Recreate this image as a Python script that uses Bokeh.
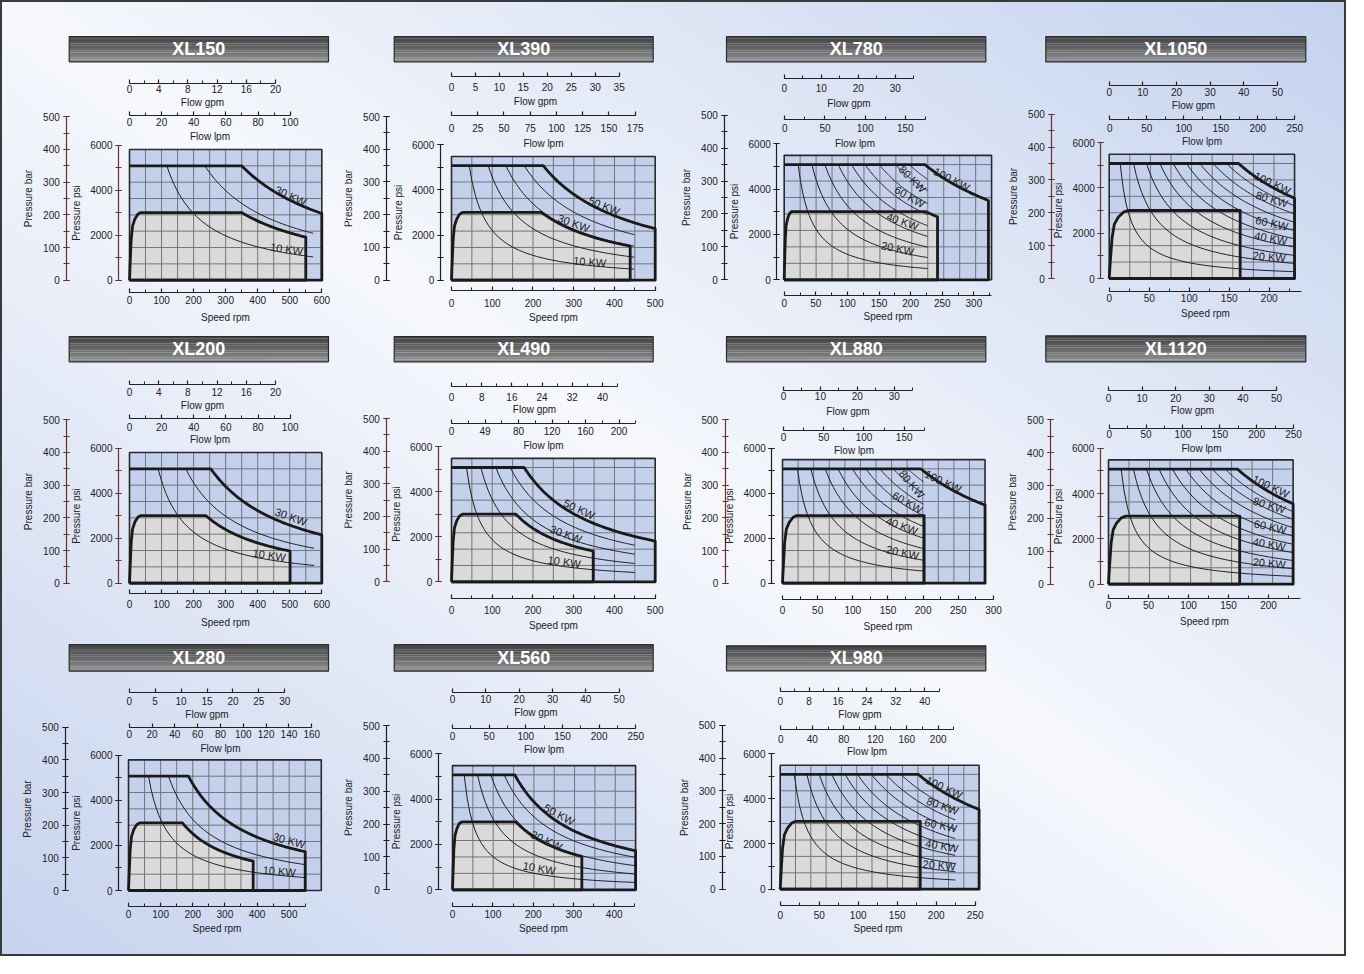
import numpy as np
from bokeh.plotting import figure
from bokeh.models import Range1d, LinearAxis, FixedTicker, Label, ColumnDataSource, Spacer
from bokeh.layouts import row, column
from bokeh.core.properties import value
from bokeh.embed import file_html
from bokeh.resources import INLINE

# ------------------------------------------------------------------ data
MODELS = ["XL150", "XL390", "XL780", "XL1050",
          "XL200", "XL490", "XL880", "XL1120",
          "XL280", "XL560", "XL980"]

# speed axis (rpm)
SPEED_STEP = [100, 100, 50, 50, 100, 100, 50, 50, 100, 100, 50]
SPEED_MINOR = [50, 50, 25, 25, 50, 50, 25, 25, 50, 50, 25]
SPEED_LAST = [600, 500, 300, 200, 600, 500, 300, 200, 500, 400, 250]
SPEED_END = [600, 500, 328, 240, 600, 500, 300, 240, 550, 450, 250]

# flow axes
GPM_STEP = [4, 5, 10, 10, 4, 8, 10, 10, 5, 10, 8]
GPM_MINOR = [2, 5, 5, 10, 2, 4, 5, 10, 5, 10, 4]
GPM_LAST = [20, 35, 30, 50, 20, 40, 30, 50, 30, 50, 40]
GPM_END = [20, 35, 35, 50, 20, 44, 35, 50, 30, 50, 44]
LPM_STEP = [20, 25, 50, 50, 20, 40, 50, 50, 20, 50, 40]
LPM_MINOR = [10, 25, 25, 25, 10, 20, 25, 25, 20, 25, 20]
LPM_LAST = [100, 175, 150, 250, 100, 200, 150, 250, 160, 250, 200]
LPM_END = [100, 175, 175, 250, 100, 220, 175, 250, 160, 250, 220]
LPM_LABEL_OVERRIDES = {5: {40: "49"}}

# pressure axes
BAR_TICKS = [0, 100, 200, 300, 400, 500]
BAR_MINOR = [0, 50, 100, 150, 200, 250, 300, 350, 400, 450, 500]
PSI_TICKS = [0, 2000, 4000, 6000]
PSI_MINOR = [0, 1000, 2000, 3000, 4000, 5000, 6000]
PSI_PER_BAR = 14.5038

# operating box
BOX_RPM = [600, 500, 328, 231.7, 600, 500, 288, 230.8, 600, 453, 255]
BOX_BAR = [400, 378, 378, 378, 400, 378, 378, 378, 400, 378, 378]
GRID_COLS = [12, 10, 13, 9, 12, 10, 13, 9, 12, 9, 13]
GRID_BAR_STEP = 50

# intermittent envelope (bar, rpm)
INT_BAR = 350
INT_CORNER_RPM = [350, 225, 222.5, 161.7, 253.7, 178.4, 196.7, 161.2, 186.7, 154, 177]
INT_END_RPM = [600, 500, 323, 231.7, 600, 500, 288, 230.8, 550, 453, 255]

# continuous envelope (bar, rpm)
CONT_BAR = 207
CONT_RAMP_RPM = [35, 27, 11.6, 24, 35, 27, 20.4, 21.7, 35, 23, 20]
CONT_CORNER_RPM = [350, 221, 224, 163.7, 238, 158, 201.4, 164, 168, 156.7, 179.5]
CONT_END_RPM = [550, 438.6, 242.5, 163.7, 501, 347.8, 201.4, 164, 388, 320, 179.5]
RAMP_N = [0.0, 0.06, 0.15, 0.27, 0.47, 0.74, 1.0]
RAMP_P = [0.0, 0.26, 0.60, 0.80, 0.90, 0.975, 1.0]

# constant-power curves: rpm where each meets the 350 bar line, and end rpm
CURVE_START_RPM = [
    [116.5, 235],
    [43.4, 90, 133.4, 178.4],
    [22.1, 43.8, 64.3, 85.4, 106.5, 128, 150.2, 175.5, 197.7],
    [13.7, 30.4, 46.6, 63.4, 80, 96.6, 113.3, 130, 146.6],
    [89.4, 175.7],
    [36.8, 72, 108.8, 144],
    [21.3, 40.3, 60.7, 79, 99.5, 118.5, 138.4, 157.3, 177.7],
    [15.8, 31.2, 47.5, 63.3, 80, 96.7, 113.3, 130, 145.8],
    [62.2, 124.5],
    [28.9, 61.9, 94.8, 127.8],
    [18, 34.2, 50, 66.2, 83.3, 99.1, 117, 135.5, 154.7],
]
CURVE_END_RPM = [573, 448.5, 226.7, 231.7, 576, 450, 200.5, 230.8, 550, 452, 224.4]

# power labels: (text, rpm, bar, angle deg)
KW_LABELS = [
    [("30 KW", 503, 258, -25), ("10 KW", 490, 95, -8)],
    [("50 KW", 374.8, 227.2, -22), ("30 KW", 299.5, 174.1, -20), ("10 KW", 339.5, 56.2, -5)],
    [("100 KW", 265, 305.6, -27), ("80 KW", 202.9, 305.6, -45), ("60 KW", 198.6, 252.1, -30),
     ("40 KW", 187.1, 177.1, -20), ("20 KW", 179.2, 95.1, -12)],
    [("100 KW", 204, 290, -25), ("80 KW", 203.3, 241.3, -17), ("60 KW", 203.3, 168.3, -12),
     ("40 KW", 202, 122.6, -10), ("20 KW", 200, 66, -5)],
    [("30 KW", 503.3, 203.2, -20), ("10 KW", 435.9, 85.7, -8)],
    [("50 KW", 313.4, 222.3, -25), ("30 KW", 280.6, 145.7, -20), ("10 KW", 276.6, 61.2, -8)],
    [("100 KW", 228.5, 311.2, -25), ("80 KW", 183.9, 303, -50), ("60 KW", 177.7, 246.9, -30),
     ("40 KW", 169.6, 175.6, -20), ("20 KW", 170.6, 93.9, -12)],
    [("100 KW", 202.9, 297.1, -25), ("80 KW", 200.9, 240.3, -17), ("60 KW", 202.1, 174.6, -12),
     ("40 KW", 200.9, 121.7, -10), ("20 KW", 200.9, 63.9, -5)],
    [("30 KW", 500, 153, -15), ("10 KW", 469, 59, -5)],
    [("50 KW", 264, 229, -28), ("30 KW", 232.6, 150, -25), ("10 KW", 214.5, 65.7, -10)],
    [("100 KW", 210.3, 310, -25), ("80 KW", 208.1, 254.3, -20), ("60 KW", 205.9, 195.1, -12),
     ("40 KW", 207.2, 132.3, -10), ("20 KW", 203.8, 73.2, -5)],
]

# ------------------------------------------------------------------ layout / style
BROWN = "#6b2f2f"
BLACK = "#1e1e1e"
BAR_AXIS_COLOR = [BROWN, BLACK, BLACK, BROWN, BROWN, BROWN, BROWN, BROWN, BLACK, BLACK, BLACK]
PSI_AXIS_COLOR = [BROWN, BLACK, BLACK, BROWN, BROWN, BROWN, BLACK, BROWN, BLACK, BLACK, BLACK]
FONT = "Liberation Sans"
BOX_BLUE = "#c4d1ec"
CONT_GREY = "#dadada"
GRID_COLOR = "#757575"
TITLE_SHADES = ["#454545", "#4b4b4b", "#525252", "#595959", "#606060", "#686868",
                "#707070", "#777777", "#7f7f7f", "#868686", "#8c8c8c"]

COL_X = [8, 352, 686, 1016]
COL_W = [344, 334, 330, 338]
ROW_Y = [8, 338, 646]
ROW_H = [330, 308, 318]

# pixel geometry of each panel on the page (axis anchors)
GEOM = [
    dict(L=137.0, sx=0.3205, y0=287.7, sy=0.3268, Lg=137.0, sg=7.30, Ll=137.0, sl=1.607,
         bar_x=74.3, psi_x=126.0, gpm=(90.7, 98.3, 110.7), lpm=(123.3, 131.7, 146.0),
         spd=(300.0, 309.3, 326.7), tb=(76.7, 336.0, 44.0, 69.3)),
    dict(L=459.0, sx=0.4074, y0=287.7, sy=0.3274, Lg=459.0, sg=4.791, Ll=459.0, sl=1.0497,
         bar_x=394.3, psi_x=447.7, gpm=(84.3, 96.7, 111.0), lpm=(123.3, 137.3, 152.3),
         spd=(297.7, 312.7, 326.0), tb=(401.7, 660.7, 44.0, 69.3)),
    dict(L=791.7, sx=0.6323, y0=287.3, sy=0.3292, Lg=791.7, sg=3.70, Ll=792.3, sl=0.8033,
         bar_x=732.3, psi_x=784.3, gpm=(85.7, 97.3, 111.0), lpm=(127.3, 137.7, 152.3),
         spd=(303.3, 312.7, 326.0), tb=(734.0, 993.3, 44.0, 69.3)),
    dict(L=1116.7, sx=0.80, y0=286.0, sy=0.3286, Lg=1116.7, sg=3.366, Ll=1117.3, sl=0.74,
         bar_x=1059.3, psi_x=1108.3, gpm=(92.7, 101.7, 112.7), lpm=(127.3, 137.3, 150.0),
         spd=(299.3, 307.7, 322.7), tb=(1053.3, 1313.3, 44.0, 69.3)),
    dict(L=137.0, sx=0.3205, y0=590.7, sy=0.3268, Lg=137.0, sg=7.30, Ll=137.0, sl=1.607,
         bar_x=74.3, psi_x=126.0, gpm=(391.7, 401.7, 412.3), lpm=(426.0, 435.7, 447.3),
         spd=(600.7, 614.0, 631.0), tb=(76.7, 336.0, 344.0, 369.3)),
    dict(L=459.0, sx=0.4074, y0=589.3, sy=0.3266, Lg=459.0, sg=3.775, Ll=459.0, sl=0.8375,
         bar_x=394.3, psi_x=445.7, gpm=(394.3, 406.7, 416.7), lpm=(430.7, 440.7, 453.3),
         spd=(606.0, 619.3, 634.3), tb=(401.7, 660.7, 344.0, 369.3)),
    dict(L=790.0, sx=0.7033, y0=590.7, sy=0.3268, Lg=791.0, sg=3.69, Ll=791.0, sl=0.8047,
         bar_x=732.7, psi_x=779.3, gpm=(397.7, 406.0, 420.0), lpm=(438.3, 446.0, 459.0),
         spd=(606.7, 619.3, 634.3), tb=(734.0, 993.3, 344.0, 369.3)),
    dict(L=1116.0, sx=0.80, y0=591.7, sy=0.3288, Lg=1116.0, sg=3.36, Ll=1116.7, sl=0.7373,
         bar_x=1058.3, psi_x=1107.7, gpm=(398.3, 407.7, 420.0), lpm=(435.7, 443.3, 456.0),
         spd=(606.0, 614.3, 630.0), tb=(1053.3, 1313.3, 343.3, 369.3)),
    dict(L=136.0, sx=0.3213, y0=898.0, sy=0.3266, Lg=136.7, sg=5.187, Ll=136.7, sl=1.141,
         bar_x=73.3, psi_x=126.0, gpm=(699.7, 710.3, 721.3), lpm=(734.7, 743.7, 756.3),
         spd=(913.7, 924.0, 937.3), tb=(76.7, 336.0, 652.0, 678.7)),
    dict(L=460.0, sx=0.4042, y0=897.3, sy=0.3286, Lg=460.0, sg=3.333, Ll=460.0, sl=0.7333,
         bar_x=394.3, psi_x=445.7, gpm=(699.7, 708.7, 719.7), lpm=(736.3, 745.3, 758.0),
         spd=(913.7, 924.0, 937.3), tb=(401.7, 660.7, 652.0, 678.7)),
    dict(L=787.7, sx=0.78, y0=896.7, sy=0.328, Lg=787.7, sg=3.615, Ll=788.3, sl=0.787,
         bar_x=730.0, psi_x=779.0, gpm=(699.3, 710.0, 722.7), lpm=(737.3, 748.3, 760.0),
         spd=(913.3, 924.0, 937.3), tb=(734.0, 993.3, 653.3, 678.3)),
]


def style_axis(ax, color):
    ax.axis_line_color = color
    ax.major_tick_line_color = color
    ax.minor_tick_line_color = color
    ax.axis_line_width = 1.2
    ax.major_tick_line_width = 1.2
    ax.minor_tick_line_width = 1.0
    ax.major_label_text_font = FONT
    ax.major_label_text_font_size = "10px"
    ax.major_label_text_color = "#222222"
    ax.axis_label_text_font = FONT
    ax.axis_label_text_font_size = "10px"
    ax.axis_label_text_font_style = "normal"
    ax.axis_label_text_color = "#222222"


def hyper(p_top, n0, n1, k=60):
    n = np.linspace(n0, n1, k)
    return n, p_top * n0 / n


def make_panel(i):
    g = GEOM[i]
    r, c = divmod(i, 4)
    fx, fy, fw, fh = COL_X[c], ROW_Y[r], COL_W[c], ROW_H[r]
    X = lambda ax: (ax - g["L"]) / g["sx"]
    Y = lambda ay: (g["y0"] - ay) / g["sy"]

    p = figure(width=fw, height=fh,
               x_range=Range1d(X(fx), X(fx + fw)), y_range=Range1d(Y(fy + fh), Y(fy)),
               x_axis_type=None, y_axis_type=None, toolbar_location=None,
               title_location=None, output_backend="svg", min_border=0)
    p.outline_line_color = None
    p.background_fill_alpha = 0
    p.border_fill_alpha = 0
    p.extra_y_ranges = {"psi": Range1d(Y(fy + fh) * PSI_PER_BAR, Y(fy) * PSI_PER_BAR)}
    p.extra_x_ranges = {
        "gpm": Range1d((fx - g["Lg"]) / g["sg"], (fx + fw - g["Lg"]) / g["sg"]),
        "lpm": Range1d((fx - g["Ll"]) / g["sl"], (fx + fw - g["Ll"]) / g["sl"]),
    }

    # ---- title bar
    x1, x2, y1, y2 = g["tb"]
    n = len(TITLE_SHADES)
    edges = np.linspace(y1, y2, n + 1)
    p.quad(left=X(x1), right=X(x2), top=[Y(e) for e in edges[:-1]],
           bottom=[Y(e) for e in edges[1:]], fill_color=TITLE_SHADES, line_color=None)
    p.quad(left=X(x1), right=X(x2), top=Y(y1), bottom=Y(y2), fill_color=None,
           line_color="#2b2b2b", line_width=1.2)
    p.add_layout(Label(x=X((x1 + x2) / 2), y=Y((y1 + y2) / 2), text=MODELS[i],
                       text_align="center", text_baseline="middle", text_color="white",
                       text_font=FONT, text_font_style="bold", text_font_size="18px"))

    # ---- chart box
    box_r, box_t = BOX_RPM[i], BOX_BAR[i]
    p.quad(left=0, right=box_r, bottom=0, top=box_t, fill_color=BOX_BLUE, line_color=None)

    # continuous envelope region
    rn = np.array(RAMP_N) * CONT_RAMP_RPM[i]
    rp = np.array(RAMP_P) * CONT_BAR
    if CONT_END_RPM[i] > CONT_CORNER_RPM[i]:
        hn, hp = hyper(CONT_BAR, CONT_CORNER_RPM[i], CONT_END_RPM[i])
    else:
        hn, hp = np.array([CONT_CORNER_RPM[i]]), np.array([CONT_BAR])
    cx = list(rn) + list(hn) + [CONT_END_RPM[i], 0]
    cy = list(rp) + list(hp) + [0, 0]
    p.patch(cx, cy, fill_color=CONT_GREY, line_color=None)

    # grid
    step = box_r / GRID_COLS[i]
    vx = [step * k for k in range(1, GRID_COLS[i])]
    hy = list(range(GRID_BAR_STEP, int(box_t - 1) + 1, GRID_BAR_STEP))
    hy = [h for h in hy if h < box_t - 2]
    p.segment(x0=vx, y0=[0] * len(vx), x1=vx, y1=[box_t] * len(vx),
              line_color=GRID_COLOR, line_width=1.0)
    p.segment(x0=[0] * len(hy), y0=hy, x1=[box_r] * len(hy), y1=hy,
              line_color=GRID_COLOR, line_width=1.0)

    # constant power curves
    xs, ys = [], []
    for s in CURVE_START_RPM[i]:
        a, b = hyper(INT_BAR, s, CURVE_END_RPM[i])
        xs.append(list(a))
        ys.append(list(b))
    p.multi_line(xs, ys, line_color="#1e1e1e", line_width=1.0)

    # box outline
    p.quad(left=0, right=box_r, bottom=0, top=box_t, fill_color=None,
           line_color="#2a2a2a", line_width=1.6)

    # envelopes
    p.line(cx, cy, line_color="#1a1a1a", line_width=2.8, line_join="round")
    hn2, hp2 = hyper(INT_BAR, INT_CORNER_RPM[i], INT_END_RPM[i])
    ix = [0] + list(hn2) + [INT_END_RPM[i], 0]
    iy = [INT_BAR] + list(hp2) + [0, 0]
    p.line(ix, iy, line_color="#1a1a1a", line_width=2.8, line_join="round")

    # power labels
    lab = KW_LABELS[i]
    src = ColumnDataSource(dict(x=[t[1] for t in lab], y=[t[2] for t in lab],
                                text=[t[0] for t in lab], angle=[t[3] for t in lab]))
    p.text(x="x", y="y", text="text", angle="angle", angle_units="deg", source=src,
           text_font=value(FONT), text_font_size="11px", text_color="#222222",
           text_align="center", text_baseline="middle")

    # ---- axes
    def haxis(rng, line_lab_title, major, minor, end, title, overrides=None):
        ly, lb, lt = line_lab_title
        ax = LinearAxis(fixed_location=Y(ly), bounds=(0, end),
                        ticker=FixedTicker(ticks=major, minor_ticks=minor), axis_label=title)
        if rng != "default":
            ax.x_range_name = rng
        style_axis(ax, "#222222")
        ax.major_tick_in = 4
        ax.major_tick_out = 0
        ax.minor_tick_in = 3
        ax.minor_tick_out = 0
        ax.major_label_standoff = max(0, int(round(lb - ly - 6)))
        ax.axis_label_standoff = max(0, int(round(lt - lb - 12)))
        if overrides:
            ax.major_label_overrides = overrides
        p.add_layout(ax, "below")

    haxis("gpm", g["gpm"], list(range(0, GPM_LAST[i] + 1, GPM_STEP[i])),
          list(range(0, GPM_END[i] + 1, GPM_MINOR[i])), GPM_END[i], "Flow gpm")
    haxis("lpm", g["lpm"], list(range(0, LPM_LAST[i] + 1, LPM_STEP[i])),
          list(range(0, LPM_END[i] + 1, LPM_MINOR[i])), LPM_END[i], "Flow lpm",
          LPM_LABEL_OVERRIDES.get(i))
    haxis("default", g["spd"], list(range(0, SPEED_LAST[i] + 1, SPEED_STEP[i])),
          list(range(0, SPEED_END[i] + 1, SPEED_MINOR[i])), SPEED_END[i], "Speed rpm")

    bar_ax = LinearAxis(fixed_location=X(g["bar_x"]), bounds=(0, 500),
                        ticker=FixedTicker(ticks=BAR_TICKS, minor_ticks=BAR_MINOR),
                        axis_label="Pressure bar")
    style_axis(bar_ax, BAR_AXIS_COLOR[i])
    bar_ax.major_tick_in = 3
    bar_ax.major_tick_out = 3
    bar_ax.minor_tick_in = 3
    bar_ax.minor_tick_out = 3
    bar_ax.major_label_standoff = 4
    bar_ax.axis_label_standoff = 6
    p.add_layout(bar_ax, "left")

    psi_ax = LinearAxis(fixed_location=X(g["psi_x"]), bounds=(0, 6000), y_range_name="psi",
                        ticker=FixedTicker(ticks=PSI_TICKS, minor_ticks=PSI_MINOR),
                        axis_label="Pressure psi")
    style_axis(psi_ax, PSI_AXIS_COLOR[i])
    psi_ax.major_tick_in = 3
    psi_ax.major_tick_out = 3
    psi_ax.minor_tick_in = 3
    psi_ax.minor_tick_out = 3
    psi_ax.major_label_standoff = 3
    psi_ax.axis_label_standoff = 5
    p.add_layout(psi_ax, "left")
    return p


panels = [make_panel(i) for i in range(len(MODELS))]
rows_ = []
for r in range(3):
    items = []
    for c in range(4):
        k = r * 4 + c
        items.append(panels[k] if k < len(panels) else Spacer(width=COL_W[c], height=ROW_H[r]))
    rows_.append(row(*items))

root = column(*rows_, styles={
    "background": "linear-gradient(to bottom left, #c4d2ee 0%, #f6f8fc 50%, #c6d3ee 100%)",
    "outline": "2px solid #3a3a3a",
    "outline-offset": "-2px",
})

open("out.html", "w").write(file_html(root, INLINE))
